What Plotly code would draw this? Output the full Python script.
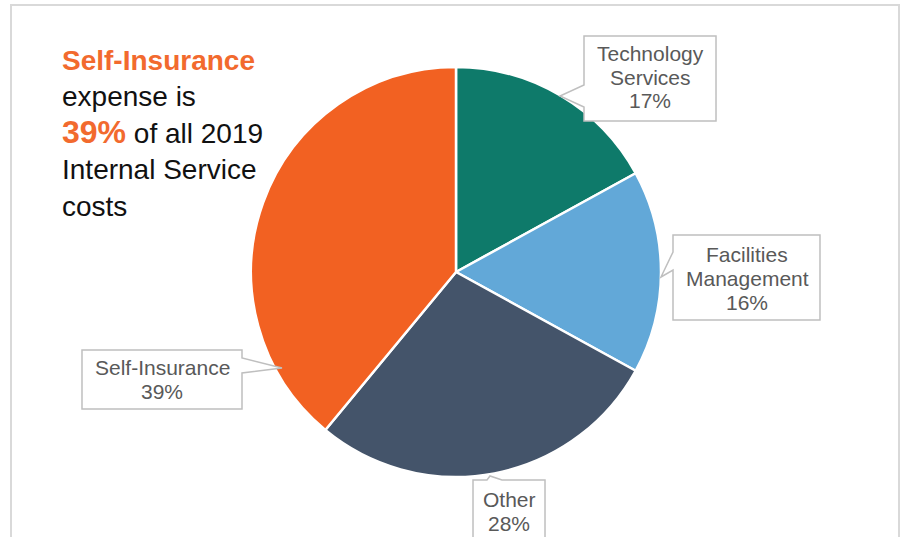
import plotly.graph_objects as go

# Share of 2019 Internal Service costs, clockwise from 12 o'clock
categories = ["Technology Services", "Facilities Management", "Other", "Self-Insurance"]
label_lines = [["Technology", "Services"], ["Facilities", "Management"], ["Other"], ["Self-Insurance"]]
shares = [17, 16, 28, 39]

slice_colors = ["#0E7A6A", "#62A8D8", "#44546A", "#F26122"]
label_color = "#595959"
callout_line = "#BFBFBF"
accent = "#F26A2E"
font_family = "Arial, 'Liberation Sans', sans-serif"

W, H = 900, 537


def px(x):
    return x / W


def py(y):
    return 1 - y / H


# Callout geometry in page pixels: box (x0, y0, x1, y1), tail base pair and tip
callouts = [
    dict(box=(584, 36, 716, 121), base=((584, 107), (584, 85)), tip=(560, 96)),
    dict(box=(673, 235, 820, 320), base=((673, 270), (673, 252)), tip=(661, 277)),
    dict(box=(473, 480, 545, 548), base=((487, 480), (502, 480)), tip=(490, 476)),
    dict(box=(82, 350, 242, 409), base=((242, 358), (242, 373)), tip=(282, 368)),
]
# x centre of each label and y of its first text line
text_anchor = [(650, 53), (747, 254), (509, 499), (162, 367)]
line_step = 24

fig = go.Figure(
    go.Pie(
        labels=categories,
        values=shares,
        sort=False,
        direction="clockwise",
        rotation=0,
        marker=dict(colors=slice_colors, line=dict(color="white", width=2.5)),
        textinfo="none",
        hovertemplate="%{label}: %{value}%<extra></extra>",
        domain=dict(x=[px(251), px(661)], y=[py(477), py(67)]),
        showlegend=False,
    )
)

shapes = [
    # outer frame
    dict(type="rect", xref="paper", yref="paper",
         x0=px(11), y0=py(560), x1=px(899), y1=py(5),
         line=dict(color="#D9D9D9", width=2), fillcolor="rgba(0,0,0,0)", layer="below"),
]


def callout_path(c):
    x0, y0, x1, y1 = c["box"]
    (bx1, by1), (bx2, by2) = c["base"]
    tx, ty = c["tip"]
    # insert the tail on the edge that holds its base points
    if bx1 == x0 and bx2 == x0:          # left edge, going upward
        pts = [(x0, y0), (x1, y0), (x1, y1), (x0, y1), (bx1, by1), (tx, ty), (bx2, by2)]
    elif bx1 == x1 and bx2 == x1:        # right edge, going downward
        pts = [(x0, y0), (x1, y0), (bx1, by1), (tx, ty), (bx2, by2), (x1, y1), (x0, y1)]
    else:                                # top edge, going right
        pts = [(x0, y0), (bx1, by1), (tx, ty), (bx2, by2), (x1, y0), (x1, y1), (x0, y1)]
    return "M " + " L ".join(f"{px(x):.5f},{py(y):.5f}" for x, y in pts) + " Z"


for c in callouts:
    shapes.append(dict(type="path", xref="paper", yref="paper", path=callout_path(c),
                       fillcolor="white", line=dict(color=callout_line, width=1.5),
                       layer="above"))

annotations = []
for lines, share, (cx, cy) in zip(label_lines, shares, text_anchor):
    for i, line in enumerate(lines + [f"{share}%"]):
        annotations.append(dict(
            x=px(cx), y=py(cy + i * line_step), xref="paper", yref="paper",
            xanchor="center", yanchor="middle", showarrow=False,
            text=line,
            font=dict(family=font_family, size=21, color=label_color),
        ))

si_share = shares[categories.index("Self-Insurance")]
annotations.append(dict(
    x=px(60), y=py(43), xref="paper", yref="paper",
    xanchor="left", yanchor="top", showarrow=False, align="left",
    text=(f"<b><span style='color:{accent}'>Self-Insurance</span></b><br>"
          "expense is<br>"
          f"<b><span style='color:{accent};font-size:32px'>{si_share}%</span></b> of all 2019<br>"
          "Internal Service<br>"
          "costs"),
    font=dict(family=font_family, size=28, color="#111111"),
))

fig.update_layout(
    width=W, height=H,
    margin=dict(l=0, r=0, t=0, b=0),
    paper_bgcolor="white", plot_bgcolor="white",
    shapes=shapes, annotations=annotations,
)

fig.write_html("out.html")
